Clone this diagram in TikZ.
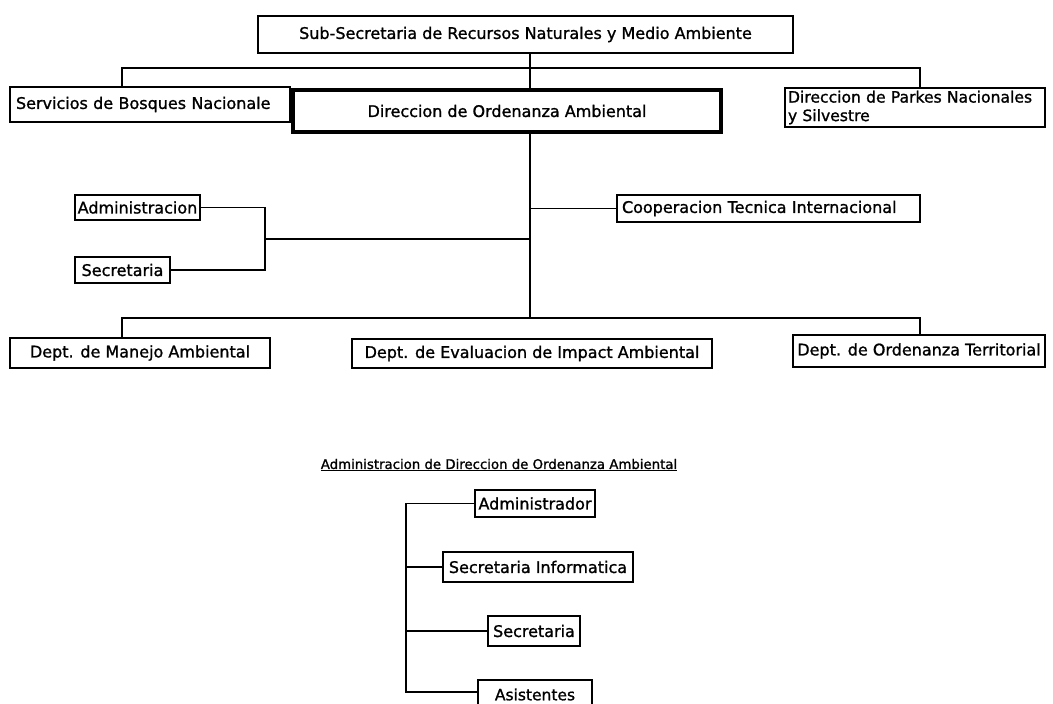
\documentclass[tikz,border=0pt]{standalone}
\usepackage{fontspec}
\setmainfont{DejaVu Sans}[BoldFont={DejaVu Sans},BoldFeatures={FakeBold=1.2}]
\begin{document}
\begin{tikzpicture}[x=1pt,y=-1pt,
  box/.style={draw,line width=1.6pt,inner sep=0pt,font=\fontsize{16}{18}\selectfont\bfseries},
  thickbox/.style={box,line width=3.5pt},
  conn/.style={line width=1.4pt},
  mainconn/.style={line width=2.8pt},
  title/.style={font=\fontsize{13.3}{15}\selectfont\bfseries}]
\clip (0,0) rectangle (1053,704);
\fill[white] (0,0) rectangle (1053,704);
% nodes
\node[box,minimum width=535pt,minimum height=37pt] (top) at (525.5,34.5) {Sub-Secretaria de Recursos Naturales y Medio Ambiente};
\node[box,minimum width=280pt,minimum height=35pt,text width=268pt,align=left] (serv) at (150,104.5) {Servicios de Bosques Nacionale};
\node[thickbox,minimum width=428pt,minimum height=42pt] (dir) at (507,111) {Direccion de Ordenanza Ambiental};
\node[box,minimum width=260pt,minimum height=39pt,text width=254pt,align=left,font=\fontsize{15.6}{18.5}\selectfont\bfseries] (parkes) at (915,107.5) {Direccion de Parkes Nacionales\\y Silvestre};
\node[box,minimum width=303pt,minimum height=27pt,text width=293pt,align=left] (coop) at (768.5,208.5) {Cooperacion Tecnica Internacional};
\node[box,minimum width=125pt,minimum height=25pt] (admin) at (137.5,207.5) {Administracion};
\node[box,minimum width=95pt,minimum height=26pt] (sec) at (122.5,270) {Secretaria};
\node[box,minimum width=260pt,minimum height=30pt] (man) at (140,353) {Dept. de Manejo Ambiental};
\node[box,minimum width=360pt,minimum height=29pt] (eval) at (532,353.5) {Dept. de Evaluacion de Impact Ambiental};
\node[box,minimum width=252pt,minimum height=32pt] (terr) at (919,351) {Dept. de Ordenanza Territorial};
\node[title] (ttl) at (499,465) {\underline{Administracion de Direccion de Ordenanza Ambiental}};
\node[box,minimum width=120pt,minimum height=27pt] (adm2) at (535,503.5) {Administrador};
\node[box,minimum width=190pt,minimum height=30pt] (secinf) at (538,567) {Secretaria Informatica};
\node[box,minimum width=92pt,minimum height=30pt] (sec2) at (534,631) {Secretaria};
\node[box,minimum width=114pt,minimum height=29pt,font=\fontsize{15.5}{17}\selectfont\bfseries] (asis) at (535,694.5) {Asistentes};
% coordinates
\coordinate (j1) at (530,68);
\coordinate (hl) at (122,68);
\coordinate (hr) at (920,68);
\coordinate (b) at (265,239);
\coordinate (ll) at (122,318);
\coordinate (lr) at (920,318);
\coordinate (jl) at (530,318);
\coordinate (tx) at (406,600);
\coordinate (ta) at (406,692);
% connectors
\draw[mainconn] (top.south -| j1) -- (dir.north -| j1);
\draw[conn] (serv.north -| hl) |- (hr) -- (parkes.north -| hr);
\draw[mainconn] (dir.south -| j1) -- (jl);
\draw[conn] (coop.west -| j1) -- (coop.west);
\draw[conn] (admin.east) -| (b) |- (sec.east);
\draw[mainconn,line width=2pt] (admin.east -| b) -- (sec.east -| b);
\draw[conn] (b) -- (b -| j1);
\draw[conn] (man.north -| ll) |- (lr) -- (terr.north -| lr);
\draw[mainconn,line width=2pt] (man.north -| ll) -- (ll);
\draw[conn] (adm2.west) -| (ta) -- (ta -| asis.west);
\draw[mainconn,line width=2.4pt] (tx |- adm2.west) -- (ta);
\draw[conn] (secinf.west -| tx) -- (secinf.west);
\draw[conn] (sec2.west -| tx) -- (sec2.west);
\end{tikzpicture}
\end{document}
